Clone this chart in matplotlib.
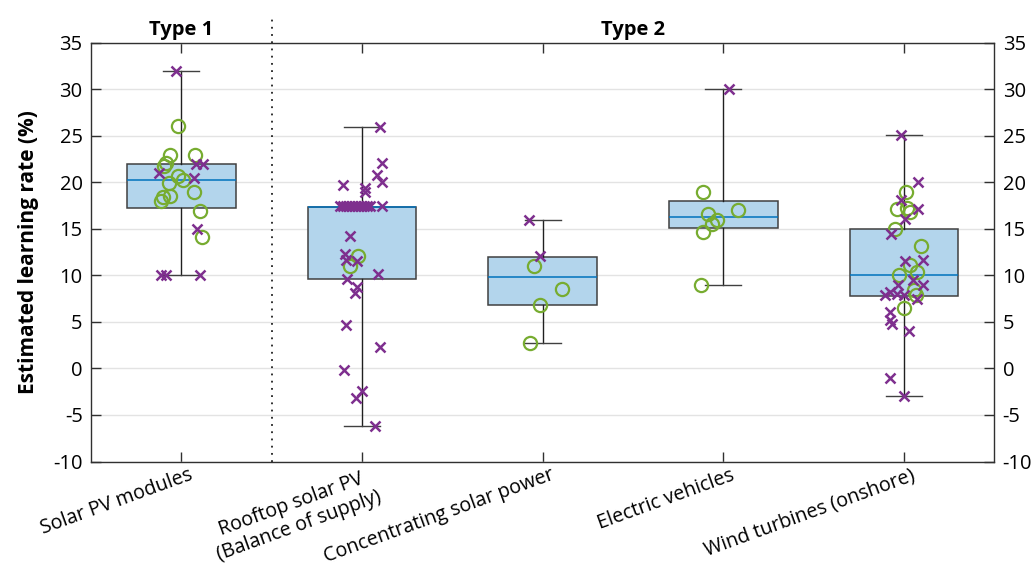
import matplotlib.pyplot as plt
import matplotlib.transforms as mtransforms

plt.rcParams['font.family'] = ['Open Sans', 'DejaVu Sans']
plt.rcParams['axes.unicode_minus'] = False

categories = ['Solar PV modules', 'Rooftop solar PV\n(Balance of supply)',
              'Concentrating solar power', 'Electric vehicles', 'Wind turbines (onshore)']
group_labels = ['Type 1', 'Type 2']

# box statistics
whis_lo = [10.0, -6.2, 2.74, 9.0, -3.0]
q1 = [17.2, 9.6, 6.8, 15.05, 7.8]
median = [20.2, 17.3, 9.78, 16.24, 10.0]
q3 = [22.0, 17.3, 12.0, 17.96, 15.0]
whis_hi = [32.0, 25.9, 16.0, 30.0, 25.1]

# individual estimates (crosses) and their horizontal jitter in pixels
cross_vals = [
    [32, 22, 22, 21.0, 20.5, 15, 10, 10, 10],
    [25.9, 22.05, 20.76, 20.07, 19.7, 19.36, 19.0,
     17.4, 17.4, 17.4, 17.4, 17.4, 17.4, 17.4, 17.4, 17.4, 17.4, 17.4, 17.4,
     14.23, 12.3, 11.7, 11.5, 10.13, 9.56, 8.77, 8.12, 4.72, 2.31, -0.2, -2.43, -3.18, -6.23],
    [16.0, 12.07],
    [30.0],
    [25.1, 20.0, 18.1, 17.1, 16.1, 14.4, 11.5, 11.7, 9.55, 9.0, 9.0, 7.9, 8.2, 8.05,
     7.9, 7.5, 6.07, 5.2, 4.8, 4.0, -1.0, -3.0],
]
cross_jitter = [
    [-5, 14.5, 21.5, -22.5, 12.5, 16, -20, -15.5, 18.5],
    [18, 20.5, 15, 20, -19, 3, 3.5,
     -22, -19, -16, -13, -10, -7, -4, -1, 2, 5, 8, 20,
     -12, -17, -16, -5, 16, -15, -5, -7, -16, 18, -18, 0, -6, 13],
    [-14, -3],
    [6],
    [-3, 14, -3, 14, 1, -13, 1, 19, 9, 19, -6, -19, -14, -7, 0, 13, -14, -14, -12, 5, -14, 0],
]

# estimates (circles) and jitter
circle_vals = [
    [26.0, 22.9, 22.05, 21.8, 22.9, 20.7, 20.25, 19.96, 19.0, 18.5, 18.4, 18.0, 16.95, 14.15],
    [12.07, 11.03],
    [11.0, 8.5, 6.8, 2.74],
    [19.0, 17.0, 16.56, 16.0, 15.5, 14.7, 9.0],
    [19.0, 17.1, 17.2, 16.85, 15.0, 13.2, 11.15, 10.4, 10.0, 8.4, 7.9, 6.5],
]
circle_jitter = [
    [-3, -11.5, -15, -17.5, 14, -3, 1.5, -12, 13, -11.5, -18, -20, 18.5, 21],
    [-4, -12],
    [-8.5, 19, -3, -12.5],
    [-20, 15, -15, -6, -11, -20, -22],
    [2, -7, 3, 6, -9, 17, 6, 13, -5, 10, 12, 0],
]

PX_PER_UNIT = 181.0
purple = '#7E2F8E'
green = '#77AC30'


def main():
    fig = plt.figure(figsize=(10.35, 5.66), dpi=100)
    ax = fig.add_axes([0.0879, 0.1846, 0.8728, 0.7400])
    positions = list(range(1, len(categories) + 1))

    ax.yaxis.grid(True, color='#e3e3e3', linewidth=1)
    ax.set_axisbelow(True)

    stats = [dict(whislo=lo, q1=a, med=m, q3=b, whishi=hi, fliers=[])
             for lo, a, m, b, hi in zip(whis_lo, q1, median, q3, whis_hi)]
    ax.bxp(stats, positions=positions, widths=0.6, patch_artist=True,
           showfliers=False,
           boxprops=dict(facecolor='#b3d5ec', edgecolor='#404040', linewidth=1.1),
           medianprops=dict(color='#0072BD', linewidth=1.1),
           whiskerprops=dict(color='#202020', linewidth=1.0),
           capprops=dict(color='#404040', linewidth=1.0), capwidths=0.2)

    for pos, vals, jit in zip(positions, circle_vals, circle_jitter):
        xs = [pos + j / PX_PER_UNIT for j in jit]
        ax.plot(xs, vals, linestyle='none', marker='o', markersize=9.5,
                markerfacecolor='none', markeredgecolor=green, markeredgewidth=1.6, zorder=4)
    for pos, vals, jit in zip(positions, cross_vals, cross_jitter):
        xs = [pos + j / PX_PER_UNIT for j in jit]
        ax.plot(xs, vals, linestyle='none', marker='x', markersize=6.5,
                color=purple, markeredgewidth=1.8, zorder=5)

    ax.set_xlim(0.5, len(categories) + 0.5)
    ax.set_ylim(-10, 35)
    ax.set_yticks(range(-10, 36, 5))
    ax.set_xticks(positions)
    ax.set_xticklabels(categories, rotation=20, ha='right', rotation_mode='anchor',
                       multialignment='center', fontsize=14.2)
    ax.tick_params(axis='both', direction='in', length=7, width=1, color='#303030',
                   labelsize=14.5, top=True, right=True, labelright=True)
    ax.tick_params(axis='x', pad=7, labelsize=14.2)
    ax.tick_params(axis='y', pad=6)
    shift = mtransforms.ScaledTranslation(0.07, 0.06, fig.dpi_scale_trans)
    for lab in ax.get_xticklabels():
        lab.set_transform(lab.get_transform() + shift)
    for s in ax.spines.values():
        s.set_color('#303030')
        s.set_linewidth(1)

    ax.set_ylabel('Estimated learning rate (%)', fontsize=15, fontweight='bold', labelpad=10)

    trans = mtransforms.blended_transform_factory(ax.transData, ax.transAxes)
    ax.plot([1.5, 1.5], [0, 1.06], transform=trans, clip_on=False, color='#202020',
            linewidth=1.3, linestyle=(0, (1, 3)))
    ax.text(1, 1.006, group_labels[0], transform=trans, ha='center', va='bottom',
            fontsize=14.5, fontweight='bold')
    ax.text(3.5, 1.006, group_labels[1], transform=trans, ha='center', va='bottom',
            fontsize=14.5, fontweight='bold')

    fig.savefig('out.png', dpi=100)
    plt.close(fig)


if __name__ == '__main__':
    main()
